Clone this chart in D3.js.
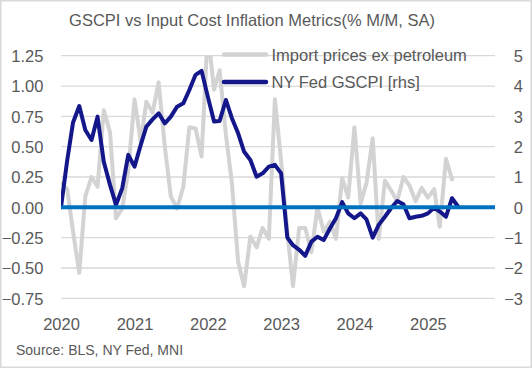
<!DOCTYPE html>
<html>
<head>
<meta charset="utf-8">
<script src="https://cdn.jsdelivr.net/npm/d3@7"></script>
<style>
  body { margin: 0; background: #fff; }
  svg text { font-family: "Liberation Sans", Arial, sans-serif; fill: #595959; }
</style>
</head>
<body>
<div id="chart"></div>
<script>
// Monthly series, first value = Jan 2020
var startYear = 2020;

// Import prices ex petroleum, % m/m (left axis)
var importPrices = [
    0.20, 0.15, -0.20, -0.54, 0.09, 0.25, 0.17, 0.80, 0.62, -0.09, -0.01, 0.30,
    0.89, 0.54, 0.87, 0.78, 1.03, 0.50, 0.09, -0.01, 0.17, 0.66, 0.65, 0.42,
    1.45, 0.97, 1.13, 0.60, 0.20, -0.45, -0.65, -0.24, -0.33, -0.17, -0.26, 0.89,
    0.38, -0.20, -0.65, -0.17, -0.17, -0.37, 0.00, -0.20, -0.12, -0.26, 0.24, 0.08,
    0.66, 0.03, 0.20, 0.57, -0.26, 0.22, 0.14, 0.05, 0.25, 0.18, 0.05, 0.16,
    0.08, 0.15, -0.16, 0.40, 0.23
];

// NY Fed GSCPI (right axis)
var gscpi = [
    0.00, 1.55, 2.80, 3.34, 2.55, 2.22, 2.99, 1.50, 0.74, 0.08, 0.63, 1.73,
    1.34, 2.06, 2.66, 2.90, 3.10, 2.77, 2.99, 3.32, 3.43, 3.87, 4.37, 4.50,
    3.65, 2.83, 2.85, 3.54, 2.94, 2.44, 1.83, 1.56, 1.01, 1.12, 1.34, 1.40,
    1.12, -1.00, -1.25, -1.40, -1.60, -1.13, -0.97, -1.08, -0.70, -0.36, 0.17, -0.20,
    -0.36, -0.20, -0.40, -1.00, -0.58, -0.31, -0.03, 0.21, 0.10, -0.36, -0.31, -0.28,
    -0.20, -0.01, -0.14, -0.31, 0.30, 0.02
];

var leftTicks = [1.25, 1.00, 0.75, 0.50, 0.25, 0.00, -0.25, -0.50, -0.75];
var rightTicks = [5, 4, 3, 2, 1, 0, -1, -2, -3];
var yearLabels = ["2020", "2021", "2022", "2023", "2024", "2025"];
var seriesNames = ["Import prices ex petroleum", "NY Fed GSCPI [rhs]"];

var width = 532, height = 368;
var plot = { left: 61, right: 495, top: 55.7, bottom: 298.3 };

var grayColour = "#d3d3d3";
var navyColour = "#13178a";
var zeroColour = "#0070c0";

var monthDate = i => new Date(startYear, i, 1);

var x = d3.scaleTime()
    .domain([new Date(2020, 0, 1), new Date(2025, 11, 1)])
    .range([plot.left, plot.right]);
var yLeft = d3.scaleLinear().domain([-0.75, 1.25]).range([plot.bottom, plot.top]);
var yRight = d3.scaleLinear().domain([-3, 5]).range([plot.bottom, plot.top]);

var svg = d3.select("#chart")
    .append("svg")
    .attr("width", width)
    .attr("height", height);

svg.append("rect")
    .attr("x", 0.75).attr("y", 0.75)
    .attr("width", width - 1.5).attr("height", height - 1.5)
    .attr("fill", "#fff")
    .attr("stroke", "#d9d9d9")
    .attr("stroke-width", 1.5);

svg.append("defs").append("clipPath")
    .attr("id", "plotClip")
    .append("rect")
    .attr("x", plot.left)
    .attr("y", plot.top)
    .attr("width", plot.right - plot.left)
    .attr("height", plot.bottom - plot.top);

// title
svg.append("text")
    .attr("x", 252)
    .attr("y", 25.5)
    .attr("text-anchor", "middle")
    .style("font-size", "16.5px")
    .text("GSCPI vs Input Cost Inflation Metrics(% M/M, SA)");

// gridlines
svg.append("g")
    .attr("class", "grid")
    .selectAll("line")
    .data(leftTicks)
    .enter().append("line")
    .attr("x1", plot.left)
    .attr("x2", plot.right)
    .attr("y1", d => yLeft(d))
    .attr("y2", d => yLeft(d))
    .attr("stroke", "#d9d9d9")
    .attr("stroke-width", 1.3);

// left axis
var leftAxis = svg.append("g")
    .attr("transform", `translate(${plot.left - 17.6},0)`)
    .call(d3.axisLeft(yLeft).tickValues(leftTicks).tickFormat(d3.format(".2f")).tickSize(0).tickPadding(0));
leftAxis.select(".domain").remove();
leftAxis.selectAll("text")
    .attr("dy", "0.36em")
    .style("font-size", "16.5px")
    .attr("fill", "#595959");

// right axis
var rightAxis = svg.append("g")
    .attr("transform", `translate(523,0)`)
    .call(d3.axisLeft(yRight).tickValues(rightTicks).tickFormat(d3.format("d")).tickSize(0).tickPadding(0));
rightAxis.select(".domain").remove();
rightAxis.selectAll("text")
    .attr("dy", "0.36em")
    .style("font-size", "16.5px")
    .attr("fill", "#595959");

// x axis
var xAxis = svg.append("g")
    .attr("transform", `translate(0,${plot.bottom})`)
    .call(d3.axisBottom(x)
        .tickValues(yearLabels.map(y => new Date(+y, 0, 1)))
        .tickFormat((d, i) => yearLabels[i])
        .tickSize(0)
        .tickPadding(20));
xAxis.select(".domain").remove();
xAxis.selectAll("text")
    .style("font-size", "16.5px")
    .attr("fill", "#595959");

var lines = svg.append("g").attr("clip-path", "url(#plotClip)");

var grayLine = d3.line()
    .x((d, i) => x(monthDate(i)))
    .y(d => yLeft(d));
var navyLine = d3.line()
    .x((d, i) => x(monthDate(i)))
    .y(d => yRight(d));

lines.append("path")
    .datum(importPrices)
    .attr("d", grayLine)
    .attr("fill", "none")
    .attr("stroke", grayColour)
    .attr("stroke-width", 4)
    .attr("stroke-linejoin", "round")
    .attr("stroke-linecap", "round");

// zero line
svg.append("line")
    .attr("x1", plot.left)
    .attr("x2", plot.right)
    .attr("y1", yLeft(0))
    .attr("y2", yLeft(0))
    .attr("stroke", zeroColour)
    .attr("stroke-width", 4);

lines.append("path")
    .datum(gscpi)
    .attr("d", navyLine)
    .attr("fill", "none")
    .attr("stroke", navyColour)
    .attr("stroke-width", 4)
    .attr("stroke-linejoin", "round")
    .attr("stroke-linecap", "round");

// legend
var legend = svg.append("g")
    .selectAll("g")
    .data(seriesNames)
    .enter().append("g")
    .attr("transform", (d, i) => `translate(224,${54.5 + i * 27.5})`);
legend.append("line")
    .attr("x1", 0).attr("x2", 42)
    .attr("y1", 0).attr("y2", 0)
    .attr("stroke", (d, i) => i == 0 ? grayColour : navyColour)
    .attr("stroke-width", 4.5)
    .attr("stroke-linecap", "round");
legend.append("text")
    .attr("x", 47.5)
    .attr("y", 6.3)
    .style("font-size", "16.5px")
    .text(d => d);

// source
svg.append("text")
    .attr("x", 16)
    .attr("y", 355)
    .style("font-size", "14px")
    .text("Source: BLS, NY Fed, MNI");
</script>
</body>
</html>
